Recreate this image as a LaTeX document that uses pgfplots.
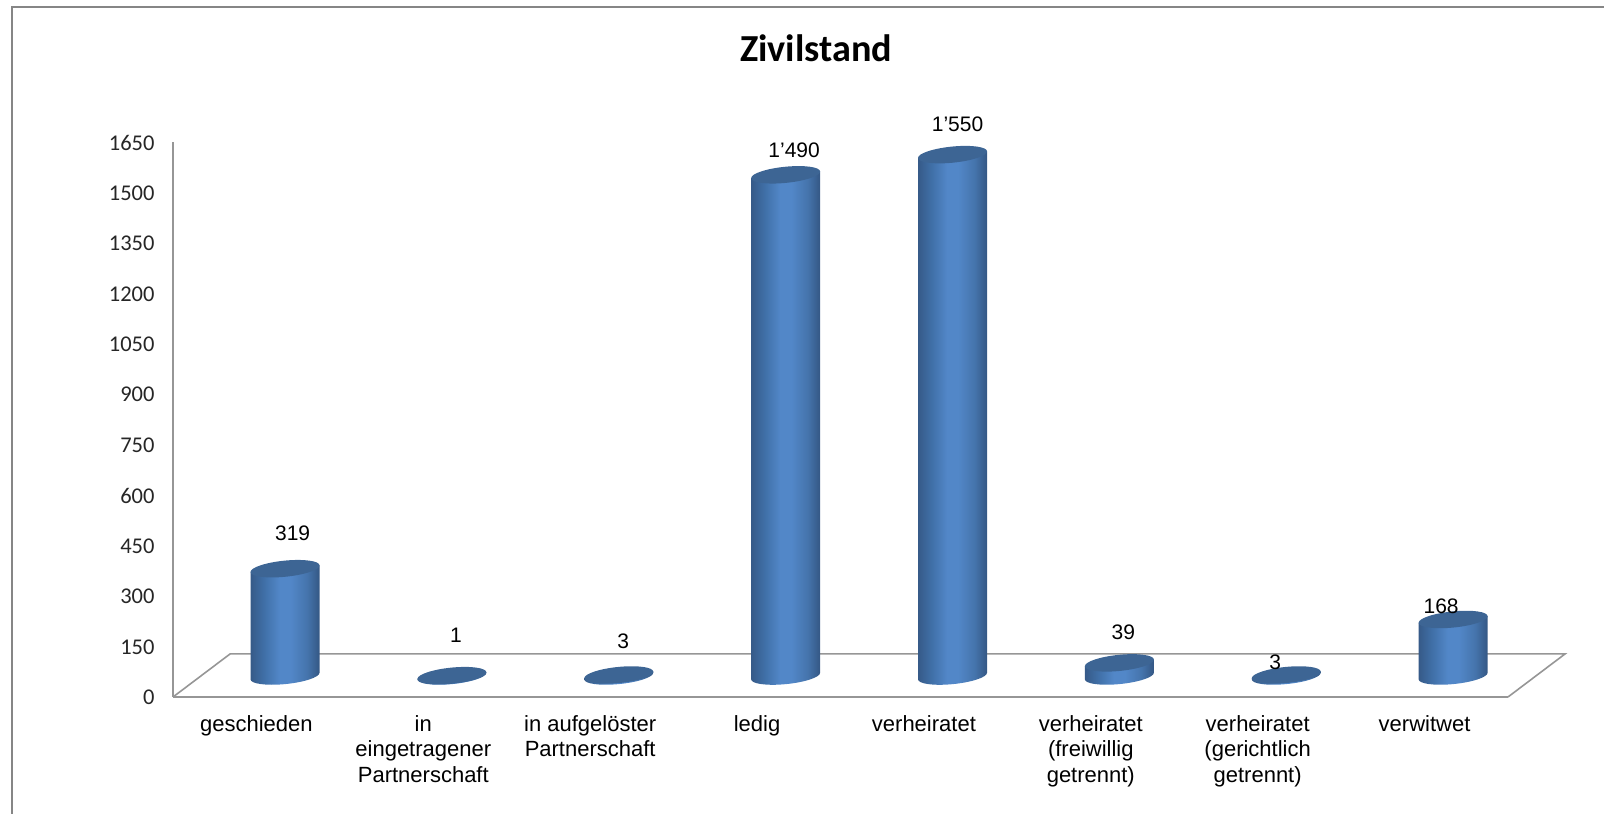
\documentclass[border=0pt]{standalone}
\usepackage{fontspec}
\setmainfont{Liberation Sans}
\newfontfamily\calfont{Carlito}
\usepackage{pgfplots}
\pgfplotsset{compat=1.18}
\definecolor{framegray}{HTML}{868686}
\definecolor{floorgray}{HTML}{969696}
\definecolor{capblue}{HTML}{3D6594}
\definecolor{cA}{HTML}{365A88}
\definecolor{cB}{HTML}{4070A8}
\definecolor{cC}{HTML}{5287C8}
\definecolor{cD}{HTML}{4574AC}
\definecolor{cE}{HTML}{345784}
\pgfdeclarehorizontalshading{cyl}{100bp}{color(0bp)=(cA);color(25bp)=(cA);color(35bp)=(cB);color(46bp)=(cC);color(54bp)=(cC);color(66bp)=(cD);color(75bp)=(cE);color(100bp)=(cE)}
\pgfdeclareplotmark{cylinder}{%
  \path[draw=none,shade,shading=cyl]
    (-34.5pt,-3.28pt) -- (-34.5pt,{-3.28pt-\h*1pt})
    .. controls (-34.5pt,{-7.75pt-\h*1pt}) and (-19.05pt,{-9.91pt-\h*1pt}) .. (0pt,{-8.1pt-\h*1pt})
    .. controls (19.05pt,{-6.29pt-\h*1pt}) and (34.5pt,{-1.19pt-\h*1pt}) .. (34.5pt,{3.28pt-\h*1pt})
    -- (34.5pt,3.28pt) -- cycle;
  \path[draw=none,fill=capblue]
    (34.5pt,3.28pt)
    .. controls (34.5pt,7.75pt) and (19.05pt,9.91pt) .. (0pt,8.1pt)
    .. controls (-19.05pt,6.29pt) and (-34.5pt,1.19pt) .. (-34.5pt,-3.28pt)
    .. controls (-34.5pt,-7.75pt) and (-19.05pt,-9.91pt) .. (0pt,-8.1pt)
    .. controls (19.05pt,-6.29pt) and (34.5pt,-1.19pt) .. (34.5pt,3.28pt) -- cycle;
}
\pgfplotstableread{
x v lab dx dy
0 319 319 7.6 35.5
1 1 1 4 40.7
2 3 3 4.5 34
3 1490 1'490 8.5 25
4 1550 1'550 5 30
5 39 39 4 31
6 3 3 -11 13
7 168 168 -12 13
}\zivil
\begin{document}
\begin{tikzpicture}[x=1pt,y=1pt]
\path[use as bounding box] (0,0) rectangle (1604,814);
\draw[framegray,line width=2.3pt] (12,-5) -- (12,807) -- (1616,807);
\begin{axis}[
  at={(173pt,117pt)},anchor=south west,
  scale only axis,width=1335pt,height=555pt,
  xmin=-0.5,xmax=7.5,ymin=0,ymax=1650,
  clip=false,
  axis x line*=bottom,axis y line*=left,
  axis line style={-,draw=floorgray,line width=1.6pt},
  major tick length=0pt,
  xtick={0,...,7},
  xticklabels={geschieden,in\\eingetragener\\Partnerschaft,in aufgelöster\\Partnerschaft,ledig,verheiratet,verheiratet\\(freiwillig\\getrennt),verheiratet\\(gerichtlich\\getrennt),verwitwet},
  xticklabel style={align=center,font=\fontsize{22}{25.3}\selectfont,text depth=0pt,anchor=north,yshift=-15pt},
  ytick={0,150,...,1650},
  /pgf/number format/assume math mode=true,
  /pgf/number format/set thousands separator={},
  yticklabel style={font=\calfont\fontsize{22.5}{25}\selectfont,color=black!85,anchor=east,xshift=-15pt,yshift=-0.5pt},
]
\draw[floorgray,line width=1.6pt] (axis cs:-0.5,0) -- (axis cs:-0.158,128) -- (axis cs:7.842,128) -- (axis cs:7.5,0);
\addplot[scatter,only marks,mark=cylinder,
  xshift=28.6pt,yshift=21pt,
  point meta=explicit symbolic,
  scatter/@pre marker code/.code={\pgfscope},
  scatter/@post marker code/.code={\endpgfscope},
  visualization depends on={\thisrow{v}*0.3364 \as \h},
  visualization depends on={\thisrow{dx} \as \dx},
  visualization depends on={\thisrow{dy} \as \dy},
  nodes near coords,
  nodes near coords style={anchor=center,inner sep=0pt,text=black,font=\fontsize{21}{24}\selectfont,xshift=\dx pt,yshift=\dy pt},
] table[x=x,y=v,meta=lab] {\zivil};
\end{axis}
\node[font=\calfont\bfseries\fontsize{38.2}{40}\selectfont,text=black] at (816,766) {Zivilstand};
\end{tikzpicture}
\end{document}
